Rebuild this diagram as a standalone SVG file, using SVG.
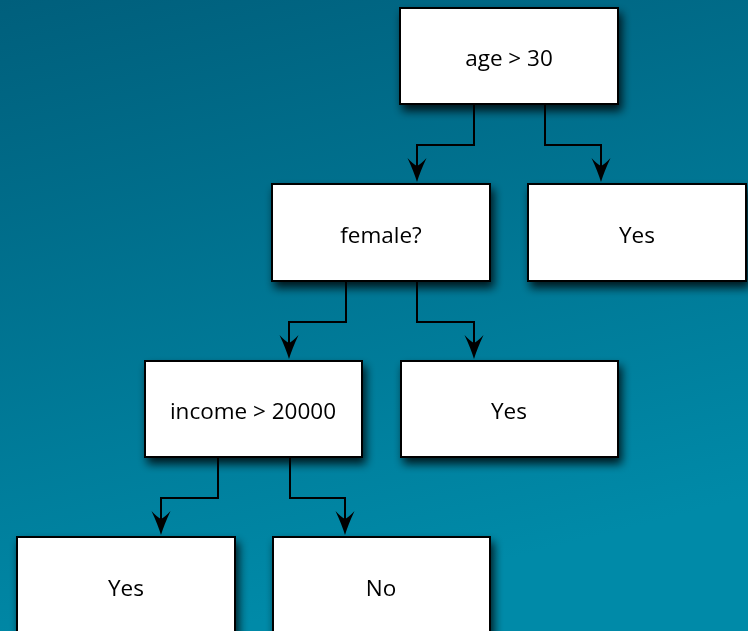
<svg xmlns="http://www.w3.org/2000/svg" width="748" height="631" viewBox="0 0 748 631">
  <defs>
    <linearGradient id="bg" x1="0" y1="0" x2="0.3" y2="1">
      <stop offset="0" stop-color="#005f7c"/>
      <stop offset="1" stop-color="#008aa8"/>
    </linearGradient>
    <filter id="shadow" x="-20%" y="-20%" width="150%" height="160%">
      <feGaussianBlur in="SourceAlpha" stdDeviation="5"/>
      <feOffset dx="3" dy="6" result="b"/>
      <feComponentTransfer><feFuncA type="linear" slope="0.8"/></feComponentTransfer>
      <feMerge><feMergeNode/><feMergeNode in="SourceGraphic"/></feMerge>
    </filter>
    <!-- stealth arrowhead, tip at local (0,0), pointing down -->
    <path id="tip" d="M-9.5,-24 Q-4,-18 0,-16 Q4,-18 9.5,-24 Q3,-10 0,0 Q-3,-10 -9.5,-24 Z" fill="#000"/>
  </defs>
  <style>
    .box { fill: #fff; stroke: #000; stroke-width: 2; }
    .label { font-family: "Open Sans", "Liberation Sans", sans-serif; font-size: 22.5px; fill: #000; text-anchor: middle; dominant-baseline: central; }
    .edge { fill: none; stroke: #000; stroke-width: 2; }
  </style>
  <rect width="748" height="631" fill="url(#bg)"/>

  <g id="connectors">
    <path class="edge" d="M474,104 V145 H417 V168"/>
    <use href="#tip" x="417" y="182"/>
    <path class="edge" d="M545,104 V145 H601 V168"/>
    <use href="#tip" x="601" y="182"/>
    <path class="edge" d="M346,281 V322 H289 V345"/>
    <use href="#tip" x="289" y="359"/>
    <path class="edge" d="M417,281 V322 H474 V345"/>
    <use href="#tip" x="474" y="359"/>
    <path class="edge" d="M218,457 V498 H161 V521"/>
    <use href="#tip" x="161" y="535"/>
    <path class="edge" d="M290,457 V498 H345 V521"/>
    <use href="#tip" x="345" y="535"/>
  </g>

  <g id="node-age" filter="url(#shadow)">
    <rect class="box" x="400" y="8" width="218" height="96"/>
    <text class="label" x="509" y="57">age &gt; 30</text>
  </g>
  <g id="node-female" filter="url(#shadow)">
    <rect class="box" x="272" y="184" width="218" height="97"/>
    <text class="label" x="381" y="234">female?</text>
  </g>
  <g id="node-yes-1" filter="url(#shadow)">
    <rect class="box" x="528" y="184" width="218" height="97"/>
    <text class="label" x="637" y="234">Yes</text>
  </g>
  <g id="node-income" filter="url(#shadow)">
    <rect class="box" x="145" y="361" width="217" height="96"/>
    <text class="label" x="253" y="410">income &gt; 20000</text>
  </g>
  <g id="node-yes-2" filter="url(#shadow)">
    <rect class="box" x="401" y="361" width="217" height="96"/>
    <text class="label" x="509" y="410">Yes</text>
  </g>
  <g id="node-yes-3" filter="url(#shadow)">
    <rect class="box" x="17" y="537" width="218" height="110"/>
    <text class="label" x="126" y="587">Yes</text>
  </g>
  <g id="node-no" filter="url(#shadow)">
    <rect class="box" x="273" y="537" width="217" height="110"/>
    <text class="label" x="381" y="587">No</text>
  </g>
</svg>
